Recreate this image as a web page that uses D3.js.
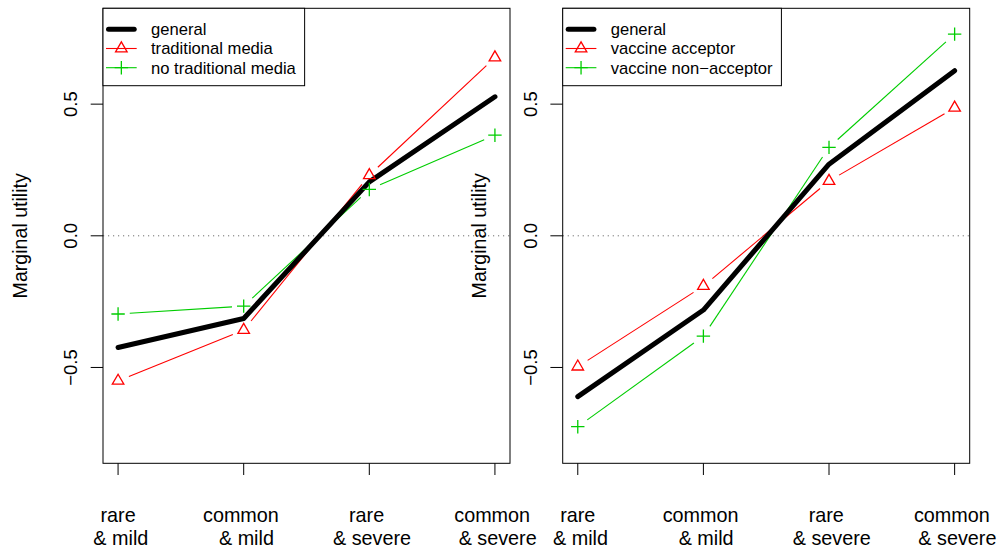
<!DOCTYPE html>
<html>
<head>
<meta charset="utf-8">
<script src="https://cdn.jsdelivr.net/npm/d3@7"></script>
<style>
  html, body { margin: 0; padding: 0; background: #fff; }
  svg text { font-family: "Liberation Sans", Arial, Helvetica, sans-serif; white-space: pre; }
</style>
</head>
<body>
<svg id="chart" width="1000" height="552"></svg>
<script>
// Attribute levels shown along the x axis (two lines each)
const categories = ["rare\n & mild", "common \n & mild", "rare \n & severe", "common \n & severe"];
const yTicks = [-0.5, 0.0, 0.5];

// Left panel: media exposure
const generalMedia       = [-0.424, -0.314, 0.205, 0.528];
const traditionalMedia   = [-0.551, -0.358, 0.230, 0.677];
const noTraditionalMedia = [-0.297, -0.267, 0.176, 0.382];

// Right panel: vaccine acceptance
const generalVaccine     = [-0.611, -0.282, 0.272, 0.627];
const vaccineAcceptor    = [-0.497, -0.191, 0.208, 0.486];
const vaccineNonAcceptor = [-0.725, -0.381, 0.336, 0.766];

const mediaLabels   = ["general", "traditional media", "no traditional media"];
const vaccineLabels = ["general", "vaccine acceptor", "vaccine non\u2212acceptor"];

const RED = "#FF0000", GREEN = "#00CD00";

const svg = d3.select("#chart");

function drawPanel(left, width, general, groupA, groupB, labels) {
  const top = 8.3, bottom = 463.3;
  const g = svg.append("g");

  // x: category index 1..4 with 4% padding on each side of the data range
  const x = d3.scaleLinear().domain([0.88, 4.12]).range([left, left + width]);
  const y = d3.scaleLinear().domain([-0.864, 0.864]).range([bottom, top]);

  // zero reference line
  g.append("line")
    .attr("x1", left).attr("x2", left + width)
    .attr("y1", y(0)).attr("y2", y(0))
    .attr("stroke", "#707070").attr("stroke-width", 1)
    .attr("stroke-dasharray", "1.2,3.8");

  const pts = vals => vals.map((v, i) => [x(i + 1), y(v)]);

  // thin series with gaps around markers
  function gappedLines(vals, color) {
    const p = pts(vals), gap = 11.7;
    for (let i = 0; i < p.length - 1; i++) {
      const [x0, y0] = p[i], [x1, y1] = p[i + 1];
      const len = Math.hypot(x1 - x0, y1 - y0);
      if (len <= 2 * gap) continue;
      const ux = (x1 - x0) / len, uy = (y1 - y0) / len;
      g.append("line")
        .attr("x1", x0 + ux * gap).attr("y1", y0 + uy * gap)
        .attr("x2", x1 - ux * gap).attr("y2", y1 - uy * gap)
        .attr("stroke", color).attr("stroke-width", 1.1);
    }
  }

  gappedLines(groupA, RED);
  gappedLines(groupB, GREEN);

  // general curve
  g.append("path")
    .attr("d", d3.line()(pts(general)))
    .attr("fill", "none").attr("stroke", "#000")
    .attr("stroke-width", 5).attr("stroke-linecap", "round").attr("stroke-linejoin", "round");

  pts(groupA).forEach(([px, py]) => triangle(g, px, py));
  pts(groupB).forEach(([px, py]) => plus(g, px, py));

  // box
  g.append("rect")
    .attr("x", left).attr("y", top).attr("width", width).attr("height", bottom - top)
    .attr("fill", "none").attr("stroke", "#000").attr("stroke-width", 1);

  // y axis
  yTicks.forEach(t => {
    g.append("line")
      .attr("x1", left - 12.3).attr("x2", left)
      .attr("y1", y(t)).attr("y2", y(t))
      .attr("stroke", "#000").attr("stroke-width", 1);
    g.append("text")
      .attr("transform", `translate(${left - 26},${y(t)}) rotate(-90)`)
      .attr("text-anchor", "middle")
      .attr("font-size", 18.5)
      .text(d3.format(".1f")(t).replace("-", "\u2212"));
  });
  g.append("text")
    .attr("transform", `translate(${left - 76.3},${(top + bottom) / 2}) rotate(-90)`)
    .attr("text-anchor", "middle")
    .attr("font-size", 19.6)
    .text("Marginal utility");

  // x axis
  categories.forEach((c, i) => {
    const cx = x(i + 1);
    g.append("line")
      .attr("x1", cx).attr("x2", cx)
      .attr("y1", bottom).attr("y2", bottom + 11.7)
      .attr("stroke", "#000").attr("stroke-width", 1);
    c.split("\n").forEach((line, k) => {
      g.append("text")
        .attr("x", cx).attr("y", 521.7 + k * 23.3)
        .attr("text-anchor", "middle")
        .attr("font-size", 19.8)
        .text(line);
    });
  });

  // legend
  const textW = Math.max(...labels.map(l => measure(l, 16.6)));
  const lg = svg.append("g");
  lg.append("rect")
    .attr("x", left).attr("y", top)
    .attr("width", textW + 56.8).attr("height", 77.4)
    .attr("fill", "#fff").attr("stroke", "#000").attr("stroke-width", 1);
  const rows = [29.3, 48.5, 67.7];
  const lx0 = left + 3, lx1 = left + 33.7, lxm = (lx0 + lx1) / 2;
  lg.append("line").attr("x1", lx0 + 2.5).attr("x2", lx1 - 2.5)
    .attr("y1", rows[0]).attr("y2", rows[0])
    .attr("stroke", "#000").attr("stroke-width", 5).attr("stroke-linecap", "round");
  lg.append("line").attr("x1", lx0).attr("x2", lx1)
    .attr("y1", rows[1]).attr("y2", rows[1])
    .attr("stroke", RED).attr("stroke-width", 1.1);
  triangle(lg, lxm, rows[1]);
  lg.append("line").attr("x1", lx0).attr("x2", lx1)
    .attr("y1", rows[2]).attr("y2", rows[2])
    .attr("stroke", GREEN).attr("stroke-width", 1.1);
  plus(lg, lxm, rows[2]);
  labels.forEach((l, k) => {
    lg.append("text")
      .attr("x", left + 48).attr("y", rows[k] + 5.9)
      .attr("font-size", 16.6)
      .text(l);
  });
}

function triangle(sel, cx, cy) {
  const r = 6.67, xc = 5.78;
  sel.append("path")
    .attr("d", `M${cx},${cy - r}L${cx + xc},${cy + r / 2}L${cx - xc},${cy + r / 2}Z`)
    .attr("fill", "none").attr("stroke", RED).attr("stroke-width", 1.3);
}

function plus(sel, cx, cy) {
  const a = 6.7;
  sel.append("path")
    .attr("d", `M${cx - a},${cy}H${cx + a}M${cx},${cy - a}V${cy + a}`)
    .attr("fill", "none").attr("stroke", GREEN).attr("stroke-width", 1.3);
}

function measure(str, size) {
  const t = svg.append("text").attr("font-size", size).text(str);
  const w = t.node().getComputedTextLength();
  t.remove();
  return w;
}

drawPanel(103, 407, generalMedia, traditionalMedia, noTraditionalMedia, mediaLabels);
drawPanel(562.7, 407, generalVaccine, vaccineAcceptor, vaccineNonAcceptor, vaccineLabels);
</script>
</body>
</html>
